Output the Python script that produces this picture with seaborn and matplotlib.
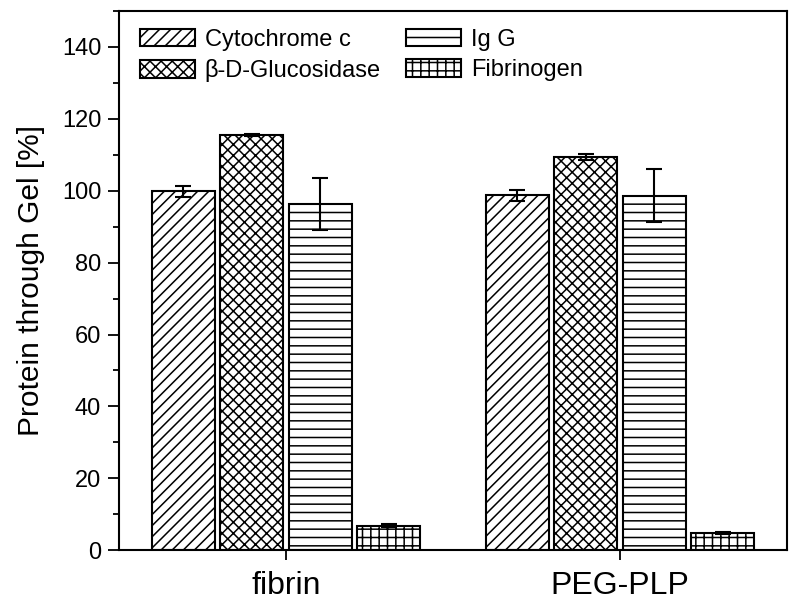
import pandas as pd
import matplotlib
matplotlib.use("Agg")
import matplotlib.pyplot as plt
from matplotlib.patches import Patch
from matplotlib.ticker import MultipleLocator
import seaborn as sns

# values
groups = ["fibrin", "PEG-PLP"]
proteins = ["Cytochrome c", "β-D-Glucosidase", "Ig G", "Fibrinogen"]
hatches = ["///", "xxx", "--", "++"]

fibrin_vals = [99.8, 115.4, 96.4, 6.8]
fibrin_err = [1.6, 0.3, 7.2, 0.4]
peg_vals = [98.7, 109.3, 98.6, 4.8]
peg_err = [1.6, 0.8, 7.3, 0.4]

sns.set_style("ticks")
plt.rcParams["font.family"] = ["Liberation Sans", "DejaVu Sans"]
plt.rcParams["hatch.linewidth"] = 1.1
for key in ["text.color", "axes.labelcolor", "xtick.color", "ytick.color", "axes.edgecolor"]:
    plt.rcParams[key] = "black"


def build_frame():
    rows = []
    for g, vals, errs in [(groups[0], fibrin_vals, fibrin_err), (groups[1], peg_vals, peg_err)]:
        for p, v, e in zip(proteins, vals, errs):
            rows.append({"group": g, "protein": p, "value": v, "err": e})
    return pd.DataFrame(rows)


df = build_frame()

fig = plt.figure(figsize=(8, 6.08), dpi=100)
ax = fig.add_axes([0.149, 0.095, 0.835, 0.887])

sns.barplot(data=df, x="group", y="value", hue="protein", order=groups,
            hue_order=proteins, palette=["white"] * 4, edgecolor="black",
            linewidth=1.5, width=0.82, gap=0.08, errorbar=None,
            legend=False, ax=ax)

# hatch each protein and add the error bars
for cont, h, p in zip(ax.containers, hatches, proteins):
    sub = df[df["protein"] == p].set_index("group").loc[groups]
    xs = []
    for bar in cont:
        bar.set_hatch(h)
        xs.append(bar.get_x() + bar.get_width() / 2)
    ax.errorbar(xs, sub["value"], yerr=sub["err"], fmt="none", ecolor="black",
                elinewidth=1.5, capsize=5.8, capthick=1.5, zorder=5)

handles = [Patch(facecolor="white", edgecolor="black", linewidth=1.5, hatch=h, label=p)
           for p, h in zip(proteins, hatches)]
ax.legend(handles=handles, ncol=2, loc="upper left", frameon=False, fontsize=17,
          handlelength=2.35, handleheight=0.77, handletextpad=0.4,
          columnspacing=1.05, labelspacing=0.35, borderaxespad=0, borderpad=0,
          bbox_to_anchor=(0.031, 0.967))

ax.set_xlim(-0.5, 1.5)
ax.set_ylim(0, 150)
ax.yaxis.set_major_locator(MultipleLocator(20))
ax.yaxis.set_minor_locator(MultipleLocator(10))
ax.set_xlabel("")
ax.set_ylabel("Protein through Gel [%]", fontsize=21.5, labelpad=12)
ax.tick_params(axis="y", which="major", direction="out", length=8, width=1.3, labelsize=17, pad=5)
ax.tick_params(axis="y", which="minor", direction="out", length=4, width=1.3)
ax.tick_params(axis="x", direction="out", length=7, width=1.3, labelsize=23, pad=8)
for s in ax.spines.values():
    s.set_visible(True)
    s.set_linewidth(1.5)

fig.savefig("out.png", dpi=100)
